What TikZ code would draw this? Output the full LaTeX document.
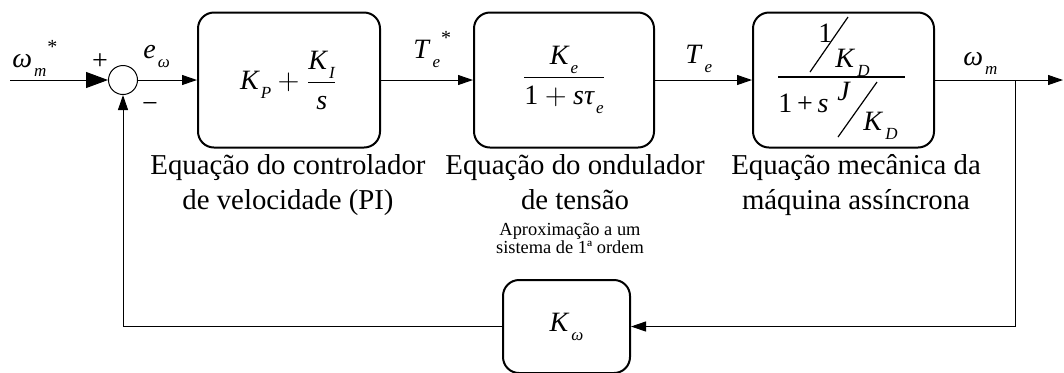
\documentclass[tikz,border=0pt]{standalone}
\usepackage{fontspec}
\setmainfont{Liberation Serif}
\usepackage{amsmath}
\usepackage{tikz}
\usetikzlibrary{arrows.meta}

%% variaveis em italico, indices e expoentes
\newcommand{\vr}[1]{\textit{#1}}
\newcommand{\sbi}[1]{\kern1pt\raisebox{-4.5pt}{\fontsize{8.5}{8.5}\selectfont\textit{#1}}}
\newcommand{\spi}[1]{\kern0.5pt\raisebox{7pt}{\fontsize{10}{10}\selectfont #1}}

\begin{document}
\begin{tikzpicture}[x=0.5pt,y=-0.5pt,
  blk/.style={draw, line width=1pt, rounded corners=8pt, minimum width=91pt,
    minimum height=67.5pt, inner sep=0pt, font=\fontsize{14}{16}\selectfont},
  sig/.style={line width=0.5pt, -{Triangle[length=7.5pt,width=5pt]}},
  lbl/.style={font=\fontsize{14}{16}\selectfont, inner sep=0pt, anchor=base west},
  txt/.style={font=\fontsize{14.4}{17.5}\selectfont, align=center, inner sep=0pt, anchor=north}]
\useasboundingbox (0,0) rectangle (1064,372);

%%% somador %%%%%%%%%%%%%%%%%%%%%%%%%%%%%%%%
\node[draw, circle, minimum size=14.5pt, inner sep=0pt, line width=0.5pt] (sum) at (123,80) {};
\node[font=\fontsize{14}{16}\selectfont, inner sep=0pt] (pls) at (100,62) {+};
\node[font=\fontsize{14}{16}\selectfont, inner sep=0pt] (mns) at (150,107) {−};

%%% blocos %%%%%%%%%%%%%%%%%%%%%%%%%%%%%%%%%
\node[blk] (pi) at (289,80) {$\vr{K}\sbi{P}+\dfrac{\vr{K}\sbi{I}}{\vr{s}}$};
\node[blk, minimum width=90pt] (ond) at (564,80) {$\dfrac{\vr{K}\sbi{e}}{\mbox{1}+\vr{s}\vr{τ}\sbi{e}}$};
\node[blk, minimum width=90.5pt] (mec) at (843.5,80) {};
\node[blk, minimum width=63.5pt, minimum height=46.5pt] (kw) at (566.5,326.5) {\vr{K}\sbi{ω}};

%%% 1/K_D sobre 1+s J/K_D (bloco mecanico) %%%%
\node[lbl] (mn1) at (818,42) {1};
\node[lbl] (mnk) at (835,67) {\vr{K}\sbi{D}};
\node[lbl] (md1) at (778,112) {1\,+\,\vr{s}};
\node[lbl] (mdj) at (837,100) {\vr{J}};
\node[lbl] (mdk) at (863,130) {\vr{K}\sbi{D}};
\draw[line width=0.6pt] (810,72) -- (848,17);
\draw[line width=0.6pt] (778,77) -- (905,77);
\draw[line width=0.6pt] (838,137) -- (877,82);

%%% sinais %%%%%%%%%%%%%%%%%%%%%%%%%%%%%%%%%
\node[lbl] (wref) at (12,67) {\vr{ω}\sbi{m}\spi{*}};
\node[lbl] (ew) at (143,58) {\vr{e}\sbi{ω}};
\node[lbl] (teref) at (413,58) {\vr{T}\sbi{e}\spi{*}};
\node[lbl] (te) at (685,63) {\vr{T}\sbi{e}};
\node[lbl] (wm) at (963,65) {\vr{ω}\sbi{m}};

\coordinate (in) at (10,80);
\coordinate (out) at (1063,80);
\coordinate (br) at (1015,80);

\draw[sig, -{Triangle[length=11pt,width=8pt]}] (in) -- (sum);
\draw[sig] (sum) -- (pi);
\draw[sig] (pi) -- (ond);
\draw[sig] (ond) -- (mec);
\draw[sig] (mec) -- (out);
\draw[sig] (br) |- (kw);
\draw[sig] (kw) -| (sum);

%%% legendas %%%%%%%%%%%%%%%%%%%%%%%%%%%%%%%
\node[txt] (t1) at (288,154) {Equação do controlador\\de velocidade (PI)};
\node[txt] (t2) at (575,154) {Equação do ondulador\\de tensão};
\node[txt, font=\fontsize{9.2}{9}\selectfont] (t2b) at (570,223) {Aproximação a um\\sistema de 1ª ordem};
\node[txt] (t3) at (856,154) {Equação mecânica da\\máquina assíncrona};
\end{tikzpicture}
\end{document}
